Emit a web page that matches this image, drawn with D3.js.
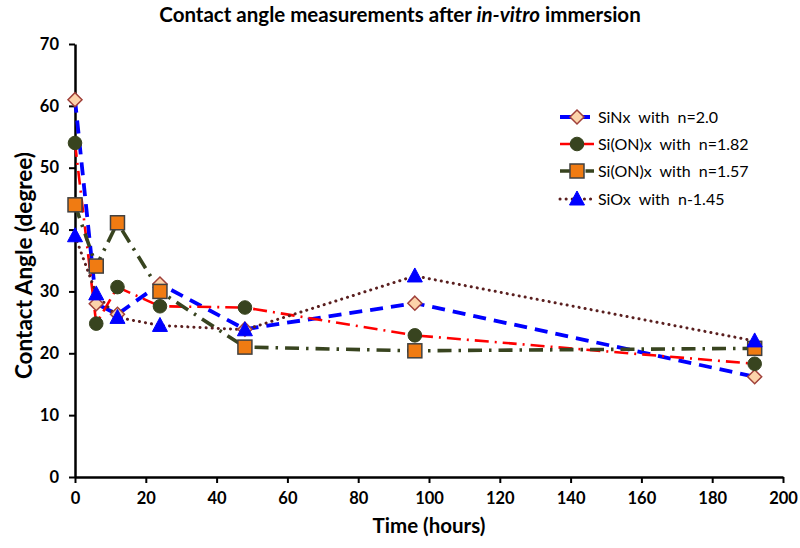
<!DOCTYPE html>
<html>
<head>
<meta charset="utf-8">
<script src="https://cdn.jsdelivr.net/npm/d3@7"></script>
<style>
  body { margin: 0; background: #fff; }
  svg { display: block; }
  text { font-family: Lato, "Liberation Sans", sans-serif; }
</style>
</head>
<body>
<svg id="chart" width="800" height="548"></svg>
<script>
const hours = [0, 6, 12, 24, 48, 96, 192];
const seriesNames = ["SiNx  with  n=2.0", "Si(ON)x  with  n=1.82", "Si(ON)x  with  n=1.57", "SiOx  with  n-1.45"];
const siNx = [61, 28, 26.3, 31.2, 23.9, 28.1, 16.2];
const siON182 = [54, 24.8, 30.7, 27.6, 27.4, 22.9, 18.3];
const siON157 = [44, 34.1, 41.1, 30, 21, 20.4, 20.8];
const siOx = [39, 29.6, 25.8, 24.5, 23.8, 32.5, 22];
const xTicks = [0, 20, 40, 60, 80, 100, 120, 140, 160, 180, 200];
const yTicks = [0, 10, 20, 30, 40, 50, 60, 70];

const styles = [
  {values: siNx, stroke: "#0000ff", width: 3.8, dash: "13,8", cap: "butt", marker: "diamond", fill: "#fcd3aa", mstroke: "#a0403a"},
  {values: siON182, stroke: "#ff0000", width: 2.6, dash: "14,6,2,6", cap: "butt", marker: "circle", fill: "#38441f", mstroke: "#38441f"},
  {values: siON157, stroke: "#38441f", width: 3.6, dash: "14,7,2.5,7", cap: "butt", marker: "square", fill: "#f07b12", mstroke: "#404040"},
  {values: siOx, stroke: "#5a1f1f", width: 3, dash: "0.1,6", cap: "round", marker: "triangle", fill: "#0000ff", mstroke: "#0000ff"}
];

const svg = d3.select("#chart");
const mLeft = 75, mRight = 783, mTop = 44, mBottom = 477;
const x = d3.scaleLinear().domain([0, 200]).range([mLeft, mRight]);
const y = d3.scaleLinear().domain([0, 70]).range([mBottom, mTop]);

// Title
const title = svg.append("text").attr("x", 400).attr("y", 22).attr("text-anchor", "middle")
  .attr("font-size", 20.5).attr("font-weight", "bold").attr("fill", "#000");
title.append("tspan").text("Contact angle measurements after ");
title.append("tspan").attr("font-style", "italic").text("in-vitro");
title.append("tspan").text(" immersion");

// Axes
const xAxis = svg.append("g").attr("transform", `translate(0,${mBottom})`)
  .call(d3.axisBottom(x).tickValues(xTicks).tickSize(6).tickPadding(9).tickSizeOuter(0));
const yAxis = svg.append("g").attr("transform", `translate(${mLeft},0)`)
  .call(d3.axisLeft(y).tickValues(yTicks).tickSize(6).tickPadding(10).tickSizeOuter(0));
[xAxis, yAxis].forEach(g => {
  g.select(".domain").attr("stroke", "#000").attr("stroke-width", 2.5);
  g.selectAll(".tick line").attr("stroke", "#000").attr("stroke-width", 2);
  g.selectAll(".tick text").attr("font-size", 16.5).attr("font-weight", "bold").attr("fill", "#000")
    .style("font-family", "Lato, 'Liberation Sans', sans-serif");
});

// Axis labels
svg.append("text").attr("x", (mLeft + mRight) / 2).attr("y", 533).attr("text-anchor", "middle")
  .attr("font-size", 20.5).attr("font-weight", "bold").text("Time (hours)");
svg.append("text").attr("transform", `translate(32,${(mTop + mBottom) / 2 + 5}) rotate(-90)`)
  .attr("text-anchor", "middle").attr("font-size", 22.5).attr("font-weight", "bold").text("Contact Angle (degree)");

const line = d3.line().x((d, i) => x(hours[i])).y(d => y(d));

function drawMarker(g, type, cx, cy, s) {
  if (type === "diamond") {
    g.append("path").attr("d", `M${cx},${cy - 7}L${cx + 7},${cy}L${cx},${cy + 7}L${cx - 7},${cy}Z`)
      .attr("fill", s.fill).attr("stroke", s.mstroke).attr("stroke-width", 1.5);
  } else if (type === "circle") {
    g.append("circle").attr("cx", cx).attr("cy", cy).attr("r", 6.8)
      .attr("fill", s.fill).attr("stroke", s.mstroke).attr("stroke-width", 1);
  } else if (type === "square") {
    g.append("rect").attr("x", cx - 7).attr("y", cy - 7).attr("width", 14).attr("height", 14)
      .attr("fill", s.fill).attr("stroke", s.mstroke).attr("stroke-width", 1.5);
  } else {
    g.append("path").attr("d", `M${cx},${cy - 8}L${cx + 7.5},${cy + 6}L${cx - 7.5},${cy + 6}Z`)
      .attr("fill", s.fill).attr("stroke", s.mstroke).attr("stroke-width", 1);
  }
}

// Lines
styles.forEach(s => {
  svg.append("path").datum(s.values).attr("d", line).attr("fill", "none")
    .attr("stroke", s.stroke).attr("stroke-width", s.width)
    .attr("stroke-dasharray", s.dash).attr("stroke-linecap", s.cap);
});
// Markers
styles.forEach(s => {
  const g = svg.append("g");
  s.values.forEach((v, i) => drawMarker(g, s.marker, x(hours[i]), y(v), s));
});

// Legend
const legY = [117, 144, 171, 199];
styles.forEach((s, i) => {
  const g = svg.append("g");
  const ly = legY[i];
  g.append("line").attr("x1", 560).attr("x2", 594).attr("y1", ly).attr("y2", ly)
    .attr("stroke", s.stroke).attr("stroke-width", s.width)
    .attr("stroke-dasharray", i === 0 ? "11,8" : (i === 3 ? "0.1,6" : (i === 1 ? "14,6" : "13,5,2.5,5")))
    .attr("stroke-linecap", s.cap);
  drawMarker(g, s.marker, 577, ly, s);
  g.append("text").attr("x", 598).attr("y", ly + 5.5).attr("font-size", 16).attr("fill", "#000")
    .style("white-space", "pre").attr("xml:space", "preserve").text(seriesNames[i]);
});
</script>
</body>
</html>
